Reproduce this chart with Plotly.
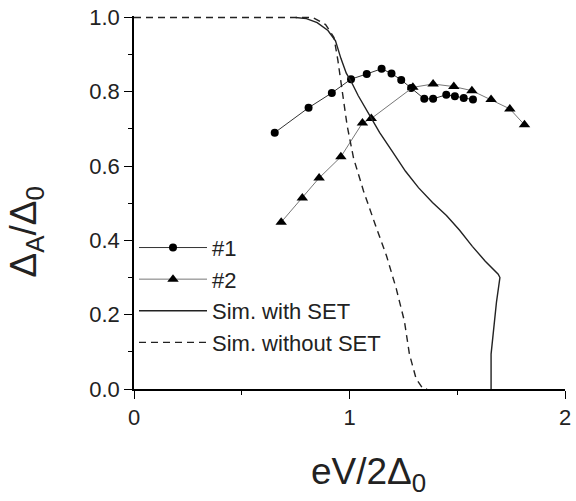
import plotly.graph_objects as go

# Series #1 (circles)
s1_x = [0.653, 0.810, 0.918, 1.007, 1.080, 1.149, 1.195, 1.240, 1.286, 1.347, 1.388, 1.449, 1.489, 1.530, 1.573]
s1_y = [0.690, 0.757, 0.797, 0.834, 0.848, 0.862, 0.849, 0.832, 0.810, 0.781, 0.781, 0.792, 0.788, 0.783, 0.779]

# Series #2 (triangles)
s2_x = [0.683, 0.781, 0.859, 0.960, 1.060, 1.101, 1.294, 1.388, 1.484, 1.568, 1.657, 1.744, 1.812]
s2_y = [0.449, 0.514, 0.568, 0.625, 0.716, 0.728, 0.812, 0.821, 0.814, 0.803, 0.779, 0.754, 0.711]

# Simulation with SET (solid)
sim_set_x = [0.75, 0.80, 0.85, 0.90, 0.935, 0.96, 0.985, 1.01, 1.04, 1.08, 1.10, 1.14, 1.20, 1.26,
             1.32, 1.385, 1.45, 1.51, 1.57, 1.63, 1.69, 1.698, 1.682, 1.668, 1.657, 1.657]
sim_set_y = [1.00, 0.997, 0.986, 0.965, 0.937, 0.89, 0.85, 0.825, 0.79, 0.75, 0.728, 0.69, 0.638, 0.586,
             0.542, 0.502, 0.467, 0.428, 0.384, 0.344, 0.309, 0.300, 0.234, 0.155, 0.094, 0.0]

# Simulation without SET (dashed)
sim_noset_x = [0.00, 0.83, 0.889, 0.928, 0.946, 0.955, 0.970, 0.989, 1.019, 1.065, 1.118, 1.172,
               1.217, 1.255, 1.278, 1.309, 1.339, 1.36]
sim_noset_y = [1.00, 1.00, 0.981, 0.946, 0.885, 0.849, 0.797, 0.709, 0.621, 0.533, 0.445, 0.358,
               0.270, 0.182, 0.094, 0.028, 0.002, 0.0]

x_ticks = [0, 1, 2]
y_ticks = [0.0, 0.2, 0.4, 0.6, 0.8, 1.0]
y_ticklabels = ["0.0", "0.2", "0.4", "0.6", "0.8", "1.0"]

FONT = "Liberation Sans, Arial, sans-serif"

fig = go.Figure()
fig.add_trace(go.Scatter(x=s1_x, y=s1_y, mode="lines+markers", name="#1",
                         line=dict(color="#333333", width=1),
                         marker=dict(symbol="circle", size=8, color="black")))
fig.add_trace(go.Scatter(x=s2_x, y=s2_y, mode="lines+markers", name="#2",
                         line=dict(color="#777777", width=1),
                         marker=dict(symbol="triangle-up", size=10, color="black")))
fig.add_trace(go.Scatter(x=sim_set_x, y=sim_set_y, mode="lines", name="Sim. with SET",
                         line=dict(color="#222222", width=1.4)))
fig.add_trace(go.Scatter(x=sim_noset_x, y=sim_noset_y, mode="lines", name="Sim. without SET",
                         line=dict(color="#222222", width=1.4, dash="7px,5px")))

axis_common = dict(showgrid=False, zeroline=False, showline=True, linecolor="black", linewidth=1.5,
                   ticks="outside", ticklen=8, tickwidth=1.3, tickcolor="black",
                   tickfont=dict(size=22, family=FONT, color="#222222"),
                   ticklabeloverflow="allow", mirror=False)

fig.update_layout(
    width=576, height=501,
    margin=dict(l=134, r=5, t=9, b=112),
    paper_bgcolor="white", plot_bgcolor="white",
    font=dict(family=FONT, color="#222222", size=22),
    showlegend=True,
    legend=dict(x=0.0, y=0.435, xanchor="left", yanchor="top",
                bgcolor="rgba(0,0,0,0)", font=dict(size=22, family=FONT),
                tracegroupgap=0, itemwidth=68),
    xaxis=dict(range=[0, 2], tickvals=x_ticks, ticktext=[str(v) for v in x_ticks],
               minor=dict(dtick=0.5, ticks="outside", ticklen=4, tickcolor="black", tickwidth=1.3),
               **axis_common),
    yaxis=dict(range=[0, 1.004], tickvals=y_ticks, ticktext=y_ticklabels,
               minor=dict(dtick=0.1, ticks="outside", ticklen=4, tickcolor="black", tickwidth=1.3),
               **axis_common),
    annotations=[
        dict(text="eV/2Δ<sub>0</sub>", xref="paper", yref="paper", x=0.545, y=-0.228,
             xanchor="center", yanchor="middle", showarrow=False,
             font=dict(size=37, family=FONT, color="#222222")),
        dict(text="Δ<sub>A</sub>/Δ<sub>0</sub>", xref="paper", yref="paper", x=-0.25, y=0.42,
             xanchor="center", yanchor="middle", showarrow=False, textangle=-90,
             font=dict(size=37, family=FONT, color="#222222")),
    ],
)

fig.write_html("out.html", config={"displayModeBar": False},
               post_script="document.body.style.margin='0px';")
